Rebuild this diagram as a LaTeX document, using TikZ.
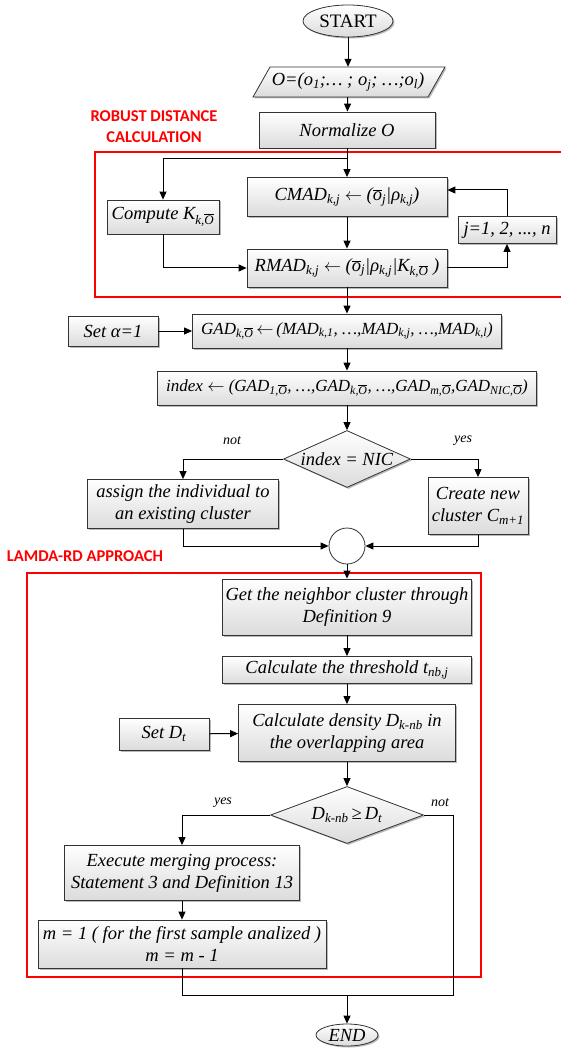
\documentclass[tikz,border=0pt]{standalone}
\usepackage{fontspec}
\setmainfont{Liberation Serif}
\newfontfamily\labfont{Carlito}
\usetikzlibrary{shapes.geometric,arrows.meta,shadows}
\newcommand\ob[1]{\ensuremath{\overline{\mbox{#1}}}}
\newcommand\sbs[1]{\textsubscript{#1}}
\begin{document}
\begin{tikzpicture}[x=1pt,y=-1pt,
  txt/.style={font=\itshape\fontsize{18.5}{22}\selectfont, align=center},
  box/.style={txt, draw=black!80, line width=0.8pt, rectangle, inner sep=0pt,
    top color=white, bottom color=black!14,
    drop shadow={shadow xshift=1.5pt, shadow yshift=-1.5pt, fill=black!45, opacity=0.6}},
  arr/.style={draw=black, line width=1pt, -{Triangle[length=8pt,width=7pt]}},
  ln/.style={draw=black, line width=1pt},
  redbox/.style={draw=red, line width=2pt},
  redlab/.style={font=\labfont\bfseries\fontsize{16.5}{21}\selectfont, text=red, align=center},
  lab/.style={font=\itshape\fontsize{14}{16}\selectfont},
  smalltxt/.style={font=\itshape\fontsize{17}{20}\selectfont}
]
\useasboundingbox (0,0) rectangle (561,1048);

% red frames
\draw[redbox] (565,152) -- (95,152) -- (95,297) -- (565,297);
\draw[redbox] (27,573) rectangle (481,977);
\node[redlab] (lab1) at (154,127) {ROBUST DISTANCE\\CALCULATION};
\node[redlab] (lab2) at (85,556) {LAMDA-RD APPROACH};

% start
\node[box, ellipse, minimum width=90pt, minimum height=32pt, font=\fontsize{19}{22}\selectfont] (start) at (348,21) {START};
% input parallelogram
\draw[draw=black!80, line width=0.8pt, top color=white, bottom color=black!14,
  drop shadow={shadow xshift=1.5pt, shadow yshift=-1.5pt, fill=black!45, opacity=0.6}]
  (270,67) -- (445,67) -- (428,97) -- (253,97) -- cycle;
\node[txt, minimum width=175pt, minimum height=30pt, inner sep=0pt] (inp) at (348,82)
  {O=(o\sbs{1};… ; o\sbs{j}; …;o\sbs{l})};
\node[box, minimum width=176pt, minimum height=36pt] (norm) at (347,130) {Normalize O};

\node[box, minimum width=200pt, minimum height=39pt] (cmad) at (347,197)
  {CMAD\sbs{k,j} $\leftarrow$ (\ob{o}\sbs{j}|ρ\sbs{k,j})};
\node[box, minimum width=112pt, minimum height=34pt] (compk) at (163,217)
  {Compute K\sbs{k,\ob{O}}};
\node[box, minimum width=200pt, minimum height=38pt] (rmad) at (347,268)
  {RMAD\sbs{k,j} $\leftarrow$ (\ob{o}\sbs{j}|ρ\sbs{k,j}|K\sbs{k,\ob{O}}~)};
\node[box, minimum width=98pt, minimum height=27pt] (jbox) at (507,230) {j=1, 2, ..., n};

\node[box, minimum width=90pt, minimum height=30pt] (seta) at (113,331) {Set α=1};
\node[box, smalltxt, minimum width=309pt, minimum height=34pt] (gad) at (347,331)
  {GAD\sbs{k,\ob{O}}\,$\leftarrow$\,(MAD\sbs{k,1}, …,MAD\sbs{k,j}, …,MAD\sbs{k,l})};
\node[box, smalltxt, minimum width=379pt, minimum height=34pt] (index) at (347,388)
  {index $\leftarrow$ (GAD\sbs{1,\ob{O}}, …,GAD\sbs{k,\ob{O}}, …,GAD\sbs{m,\ob{O}},GAD\sbs{NIC,\ob{O}})};

\node[box, diamond, minimum width=127pt, minimum height=57pt, aspect=2.2] (dia1) at (347,459) {index = NIC};
\node[box, minimum width=191pt, minimum height=49pt] (assign) at (183,504)
  {assign the individual to\\an existing cluster};
\node[box, minimum width=100pt, minimum height=57pt] (create) at (478,506)
  {Create new\\cluster C\sbs{m+1}};
\node[draw=black!80, line width=0.8pt, circle, minimum size=36pt, inner sep=0pt, fill=white] (circ) at (347,546) {};

\node[box, minimum width=249pt, minimum height=56pt] (getn) at (347,607)
  {Get the neighbor cluster through\\Definition 9};
\node[box, minimum width=249pt, minimum height=27pt] (thr) at (347,670)
  {Calculate the threshold t\sbs{nb,j}};
\node[box, minimum width=217pt, minimum height=57pt] (dens) at (347,733)
  {Calculate density D\sbs{k-nb} in\\the overlapping area};
\node[box, minimum width=90pt, minimum height=32pt] (setd) at (164,734) {Set D\sbs{t}};
\node[box, diamond, minimum width=153pt, minimum height=57pt, aspect=2.7] (dia2) at (347,815)
  {D\sbs{k-nb}\,≥\,D\sbs{t}};
\node[box, minimum width=235pt, minimum height=55pt] (exec) at (182,873)
  {Execute merging process:\\Statement 3 and Definition 13};
\node[box, minimum width=288pt, minimum height=48pt] (mbox) at (182,944)
  {m = 1 ( for the first sample analized )\\m = m - 1};
\node[box, ellipse, minimum width=62pt, minimum height=22pt] (end) at (347,1035) {END};

% coordinates
\coordinate (br1) at (347,159);
\coordinate (nr) at (453,995);
\coordinate (j2) at (347,995);

% connectors
\draw[arr] (start) -- (inp);
\draw[arr] (inp) -- (norm);
\draw[arr] (norm) -- (cmad);
\draw[arr] (br1) -| (compk.north);
\draw[arr] (compk.south) |- (rmad.west);
\draw[arr] (cmad) -- (rmad);
\draw[arr] (rmad.east) -| (jbox.south);
\draw[arr] (jbox.north) |- ([yshift=7pt]cmad.east);
\draw[arr] (rmad) -- (gad);
\draw[arr] (seta) -- (gad);
\draw[arr] (gad) -- (index);
\draw[arr] (index) -- (dia1);
\draw[arr] (dia1.west) -| (assign.north);
\draw[arr] (dia1.east) -| (create.north);
\draw[arr] (assign.south) |- (circ.west);
\draw[arr] (create.south) |- (circ.east);
\draw[arr] (circ) -- (getn);
\draw[arr] (getn) -- (thr);
\draw[arr] (thr) -- (dens);
\draw[arr] (setd) -- (dens);
\draw[arr] (dens) -- (dia2);
\draw[arr] (dia2.west) -| (exec.north);
\draw[ln] (dia2.east) -| (nr) -- (j2);
\draw[arr] (exec) -- (mbox);
\draw[ln] (mbox.south) |- (j2);
\draw[arr] (j2) -- (end);

% labels
\node[lab] (l1) at (232,441) {not};
\node[lab] (l2) at (463,441) {yes};
\node[lab] (l3) at (223,803) {yes};
\node[lab] (l4) at (440,803) {not};
\end{tikzpicture}
\end{document}
